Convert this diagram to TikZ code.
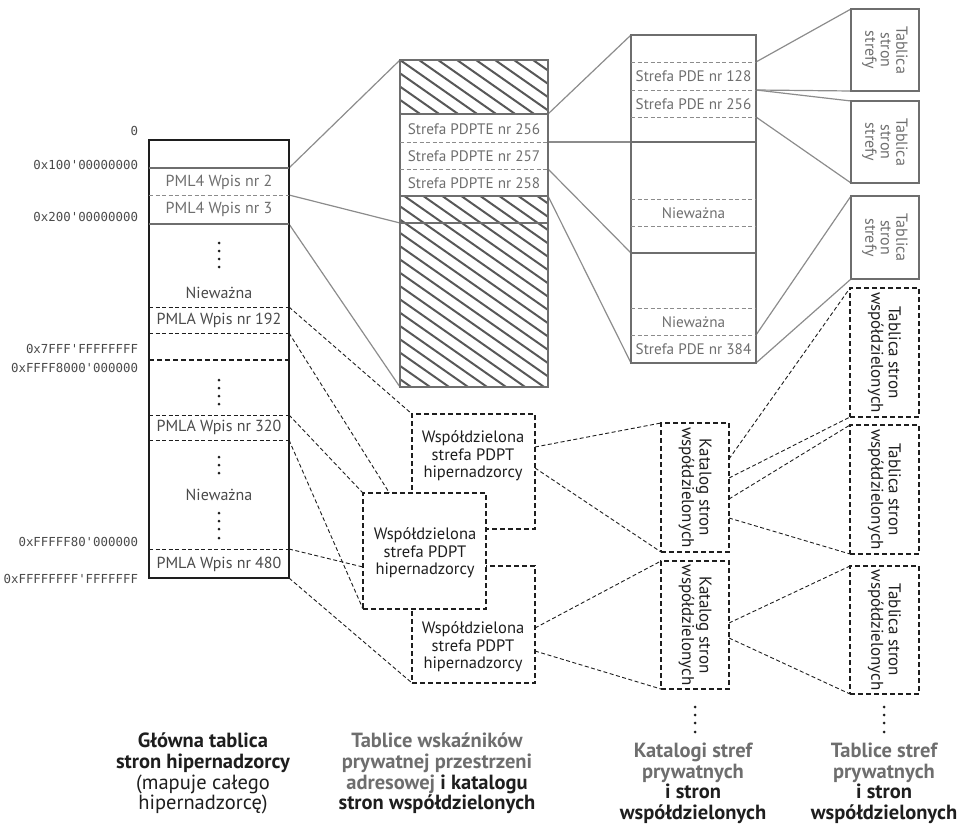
\documentclass[tikz,border=0pt]{standalone}
\usepackage{fontspec}
\setmainfont{PT Sans}
\setmonofont{DejaVu Sans Mono}
\usetikzlibrary{backgrounds}
\definecolor{gr}{HTML}{6E6E6E}
\definecolor{lgr}{HTML}{8C8C8C}
\definecolor{hc}{HTML}{585858}
\definecolor{dk}{HTML}{1E1E1E}
\definecolor{ac}{HTML}{4A4A4A}
\begin{document}
\begin{tikzpicture}[x=1pt,y=-1pt,
  every node/.style={inner sep=0pt, outer sep=0pt},
  mtbl/.style={draw=dk, line width=2.2pt, anchor=north west},
  gtbl/.style={draw=gr, line width=2pt, anchor=north west},
  ssep/.style={draw=gr, line width=1.8pt},
  gdash/.style={draw=lgr, line width=0.9pt, dash pattern=on 4pt off 2.5pt},
  kdash/.style={draw=dk, line width=1pt, dash pattern=on 4pt off 2.5pt},
  kthick/.style={draw=dk, line width=2pt, dash pattern=on 5pt off 3pt},
  shbox/.style={draw=dk, line width=2.2pt, dash pattern=on 5pt off 3pt, fill=white, anchor=north west},
  glink/.style={draw=lgr, line width=1.2pt},
  dlink/.style={draw=dk, line width=0.9pt, dash pattern=on 4pt off 2.5pt},
  hatch/.style={draw=hc, line width=2pt},
  lbl/.style={font=\fontsize{16}{18}\selectfont, text=gr},
  slbl/.style={font=\fontsize{15.2}{18}\selectfont, text=gr},
  klbl/.style={font=\fontsize{16}{18}\selectfont, text=ac},
  wlbl/.style={font=\fontsize{16.5}{17.5}\selectfont, text=dk, align=center},
  addr/.style={font=\ttfamily\fontsize{12.4}{15}\selectfont, text=ac, anchor=east},
  vlbl/.style={font=\fontsize{16}{15.5}\selectfont, rotate=-90, align=center, text=gr},
  vklbl/.style={font=\fontsize{17}{17.5}\selectfont, rotate=-90, align=center, text=dk},
  captxt/.style={font=\bfseries\fontsize{20.5}{20.7}\selectfont, align=center, anchor=north, text=dk},
]
\useasboundingbox (0,0) rectangle (976,832);

% ---------- main (PML4) table ----------
\node[mtbl, minimum width=140pt, minimum height=438pt] (pml) at (149,140) {};
\draw[ssep] (149,168) -- (289,168);
\draw[gdash] (149,195) -- (289,195);
\draw[ssep] (149,224) -- (289,224);
\draw[kdash] (149,307) -- (289,307);
\draw[kdash] (149,333) -- (289,333);
\draw[kthick] (149,360) -- (289,360);
\draw[kdash] (149,415) -- (289,415);
\draw[kdash] (149,440) -- (289,440);
\draw[kdash] (149,549) -- (289,549);

\node[lbl] (e2) at (219,182) {PML4 Wpis nr 2};
\node[lbl] (e3) at (219,209) {PML4 Wpis nr 3};
\foreach \yy in {243,251,259,267} \fill[dk] (219,\yy) circle[radius=1.5pt];
\node[klbl] (n1) at (219,293) {Nieważna};
\node[klbl] (e192) at (219,320) {PMLA Wpis nr 192};
\foreach \yy in {380,388,396,404} \fill[dk] (219,\yy) circle[radius=1.5pt];
\node[klbl] (e320) at (219,427) {PMLA Wpis nr 320};
\foreach \yy in {457,465,473} \fill[dk] (219,\yy) circle[radius=1.5pt];
\node[klbl] (n2) at (219,495) {Nieważna};
\foreach \yy in {513,521,529,538} \fill[dk] (219,\yy) circle[radius=1.5pt];
\node[klbl] (e480) at (219,564) {PMLA Wpis nr 480};

% addresses
\node[addr] (a0) at (138,131) {0};
\node[addr] (a1) at (138,165) {0x100'00000000};
\node[addr] (a2) at (138,217) {0x200'00000000};
\node[addr] (a3) at (138,349) {0x7FFF'FFFFFFFF};
\node[addr] (a4) at (138,368) {0xFFFF8000'000000};
\node[addr] (a5) at (138,542) {0xFFFFF80'000000};
\node[addr] (a6) at (138,579) {0xFFFFFFFF'FFFFFFF};

% ---------- hatched PDPT table ----------
\begin{scope}
  \clip (400,60) rectangle (548,114) (400,196) rectangle (548,387);
  \foreach \i in {-26,...,8} \draw[hatch] (400+\i*19,60) -- ++(480,336);
\end{scope}
\node[gtbl, minimum width=148pt, minimum height=327pt] (hat) at (400,60) {};
\draw[ssep] (400,114) -- (548,114);
\draw[gdash] (400,142) -- (548,142);
\draw[gdash] (400,169) -- (548,169);
\draw[ssep] (400,196) -- (548,196);
\draw[ssep] (400,223) -- (548,223);
\node[slbl] (p256) at (474,129) {Strefa PDPTE nr 256};
\node[slbl] (p257) at (474,156) {Strefa PDPTE nr 257};
\node[slbl] (p258) at (474,183) {Strefa PDPTE nr 258};

% ---------- PDE table ----------
\node[gtbl, minimum width=125pt, minimum height=328pt] (pde) at (631,35) {};
\draw[gdash] (631,62) -- (756,62);
\draw[gdash] (631,90) -- (756,90);
\draw[gdash] (631,117) -- (756,117);
\draw[ssep] (631,142) -- (756,142);
\draw[gdash] (631,199) -- (756,199);
\draw[gdash] (631,226) -- (756,226);
\draw[ssep] (631,253) -- (756,253);
\draw[gdash] (631,308) -- (756,308);
\draw[gdash] (631,335) -- (756,335);
\node[slbl] (d128) at (693.5,76) {Strefa PDE nr 128};
\node[slbl] (d256) at (693.5,104) {Strefa PDE nr 256};
\node[slbl] (dn1) at (693.5,213) {Nieważna};
\node[slbl] (dn2) at (693.5,322) {Nieważna};
\node[slbl] (d384) at (693.5,349) {Strefa PDE nr 384};

% ---------- page tables (solid) ----------
\node[gtbl, minimum width=68pt, minimum height=82pt] (t1) at (851,9) {};
\node[gtbl, minimum width=68pt, minimum height=82pt] (t2) at (851,101) {};
\node[gtbl, minimum width=68pt, minimum height=83pt] (t3) at (851,196) {};
\node[vlbl] (t1l) at (t1.center) {Tablica\\stron\\strefy};
\node[vlbl] (t2l) at (t2.center) {Tablica\\stron\\strefy};
\node[vlbl] (t3l) at (t3.center) {Tablica\\stron\\strefy};

% ---------- shared page tables (dashed) ----------
\node[shbox, minimum width=69pt, minimum height=129pt] (s4) at (850,288) {};
\node[shbox, minimum width=69pt, minimum height=129pt] (s5) at (850,425) {};
\node[shbox, minimum width=69pt, minimum height=128pt] (s6) at (850,566) {};
\node[vklbl] (s4l) at (s4.center) {Tablica stron\\współdzielonych};
\node[vklbl] (s5l) at (s5.center) {Tablica stron\\współdzielonych};
\node[vklbl] (s6l) at (s6.center) {Tablica stron\\współdzielonych};

% ---------- shared catalogs ----------
\node[shbox, minimum width=68pt, minimum height=129pt] (k1) at (661,423) {};
\node[shbox, minimum width=68pt, minimum height=128pt] (k2) at (661,561) {};
\node[vklbl] (k1l) at (k1.center) {Katalog stron\\współdzielonych};
\node[vklbl] (k2l) at (k2.center) {Katalog stron\\współdzielonych};

% ---------- shared PDPT boxes ----------
\node[shbox, minimum width=123pt, minimum height=117pt] (w3) at (412,566) {};
\node[shbox, minimum width=123pt, minimum height=115pt] (w1) at (412,414) {};
\node[shbox, minimum width=123pt, minimum height=116pt] (w2) at (363,493) {};
\node[wlbl] (w1l) at (473,456) {Współdzielona\\strefa PDPT\\hipernadzorcy};
\node[wlbl] (w2l) at (425,553) {Współdzielona\\strefa PDPT\\hipernadzorcy};
\node[wlbl] (w3l) at (473,647) {Współdzielona\\strefa PDPT\\hipernadzorcy};

% continuation dots
\foreach \yy in {707,715,723,732} {
  \fill[dk] (695,\yy) circle[radius=1.5pt];
  \fill[dk] (884,\yy) circle[radius=1.5pt];
}

% ---------- connector end points ----------
\coordinate (m168) at (289,168);
\coordinate (m195) at (289,195);
\coordinate (m224) at (289,224);
\coordinate (m307) at (289,307);
\coordinate (m333) at (289,333);
\coordinate (m415) at (289,415);
\coordinate (m440) at (289,440);
\coordinate (m549) at (289,549);
\coordinate (m578) at (289,578);
\coordinate (h223) at (400,223);
\coordinate (h114) at (548,114);
\coordinate (h142) at (548,142);
\coordinate (h169) at (548,169);
\coordinate (h196) at (548,196);
\coordinate (d142) at (631,142);
\coordinate (d253) at (631,253);
\coordinate (r62) at (756,62);
\coordinate (r90) at (756,90);
\coordinate (r117) at (756,117);
\coordinate (r335) at (756,335);
\coordinate (w1a) at (535,447);
\coordinate (w1b) at (535,468);
\coordinate (w3a) at (535,628);
\coordinate (w3b) at (535,651);
\coordinate (w2in) at (363,567);
\coordinate (k1a) at (729,459);
\coordinate (k1b) at (729,478);
\coordinate (k1c) at (729,499);
\coordinate (k1d) at (729,518);
\coordinate (k2a) at (729,623);
\coordinate (k2b) at (729,638);

\begin{pgfonlayer}{background}
  % solid links
  \draw[glink] (m168) -- (hat.north west);
  \draw[glink] (m195) -- (h223);
  \draw[glink] (m224) -- (hat.south west);
  \draw[glink] (h114) -- (pde.north west);
  \draw[glink] (h142) -- (d142);
  \draw[glink] (h169) -- (d253);
  \draw[glink] (h196) -- (pde.south west);
  \draw[glink] (r62) -- (t1.north west);
  \draw[glink] (r90) -- (t1.south west);
  \draw[glink] (r90) -- (t2.north west);
  \draw[glink] (r117) -- (t2.south west);
  \draw[glink] (r335) -- (t3.north west);
  \draw[glink] (pde.south east) -- (t3.south west);
  % dashed links
  \draw[dlink] (m307) -- (w1.north west);
  \draw[dlink] (m333) -- (w1.south west);
  \draw[dlink] (m415) -- (w2.north west);
  \draw[dlink] (m440) -- (w2.south west);
  \draw[dlink] (m549) -- (w2in);
  \draw[dlink] (m578) -- (w3.south west);
  \draw[dlink] (w1a) -- (k1.north west);
  \draw[dlink] (w1b) -- (k1.south west);
  \draw[dlink] (w3a) -- (k2.north west);
  \draw[dlink] (w3b) -- (k2.south west);
  \draw[dlink] (k1a) -- (s4.north west);
  \draw[dlink] (k1b) -- (s4.south west);
  \draw[dlink] (k1c) -- (s5.north west);
  \draw[dlink] (k1d) -- (s5.south west);
  \draw[dlink] (k2a) -- (s6.north west);
  \draw[dlink] (k2b) -- (s6.south west);
\end{pgfonlayer}

% ---------- captions ----------
\node[captxt] (c1) at (203,733) {Główna tablica\\stron hipernadzorcy\\\mdseries(mapuje całego\\\mdseries hipernadzorcę)};
\node[captxt] (c2) at (437,733) {\textcolor{gr}{Tablice wskaźników}\\\textcolor{gr}{prywatnej przestrzeni}\\\textcolor{gr}{adresowej} i katalogu\\stron współdzielonych};
\node[captxt] (c3) at (693,743) {\textcolor{gr}{Katalogi stref}\\\textcolor{gr}{prywatnych}\\i stron\\współdzielonych};
\node[captxt] (c4) at (884,743) {\textcolor{gr}{Tablice stref}\\\textcolor{gr}{prywatnych}\\i stron\\współdzielonych};
\end{tikzpicture}
\end{document}
